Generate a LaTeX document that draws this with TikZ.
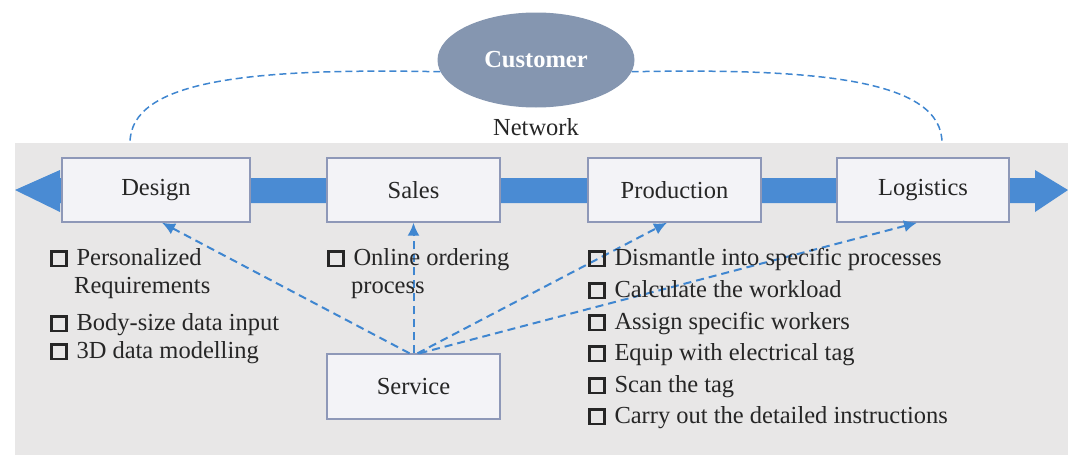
\documentclass[tikz,border=0pt]{standalone}
\usepackage{fontspec}
\setmainfont{Liberation Serif}
\usetikzlibrary{arrows.meta,shapes.geometric}

\definecolor{bggray}{HTML}{E8E7E7}
\definecolor{bandblue}{HTML}{4A8BD3}
\definecolor{linkblue}{HTML}{3F86D0}
\definecolor{boxfill}{HTML}{F3F3F7}
\definecolor{boxedge}{HTML}{8E98B8}
\definecolor{custfill}{HTML}{8596B0}

% empty square used as list bullet
\newcommand\chkbox{{\setlength\fboxrule{2.4pt}\setlength\fboxsep{0pt}\fbox{\rule{0pt}{12.5pt}\rule{12.5pt}{0pt}}}\hspace{9pt}}

\begin{document}
\begin{tikzpicture}[x=1pt,y=-1pt,
  txt/.style={font=\fontsize{24.5}{29}\selectfont, inner sep=0pt, text=black!85},
  stage/.style={txt, draw=boxedge, fill=boxfill, line width=1.4pt, minimum height=64pt},
  item/.style={txt, anchor=base west},
  netlink/.style={draw=linkblue, line width=1.5pt, dash pattern=on 7pt off 4pt},
  svclink/.style={draw=linkblue, line width=2pt, dash pattern=on 8pt off 5pt,
                  -{Latex[length=13pt,width=12pt]}}]
\useasboundingbox (0,0) rectangle (1068,458);

% shaded network area
\fill[bggray] (15,143) rectangle (1068,455);

% double-headed flow band
\fill[bandblue] (15,190) -- (60,170) -- (60,178) -- (1035,178) -- (1035,170)
  -- (1068,190) -- (1035,212) -- (1035,203) -- (60,203) -- (60,212) -- cycle;

% value chain stages
\node[stage, minimum width=188pt] (design) at (156,190) {Design};
\node[stage, minimum width=173pt] (sales) at (413.5,190) {Sales};
\node[stage, minimum width=173pt] (production) at (674.5,190) {Production};
\node[stage, minimum width=172pt] (logistics) at (923,190) {Logistics};
\node[stage, minimum width=173pt, minimum height=65pt] (service) at (413.5,386.5) {Service};

% customer and network label
\node[ellipse, fill=custfill, minimum width=197pt, minimum height=95pt, inner sep=0pt,
      text=white, font=\fontsize{24.5}{29}\selectfont\bfseries] (customer) at (536,60) {Customer};
\node[txt, anchor=base] (network) at (536,135) {Network};

% links from the customer into the network
\coordinate (dtop) at (130,143);
\coordinate (ltop) at (942,143);
\draw[netlink] (customer.187) .. controls (250,68) and (130,80) .. (dtop);
\draw[netlink] (customer.353) .. controls (820,68) and (942,80) .. (ltop);

% service feeds every stage
\draw[svclink] ([xshift=-4pt]service.north) -- ([xshift=6pt]design.south);
\draw[svclink] (service.north) -- (sales.south);
\draw[svclink] ([xshift=4pt]service.north) -- ([xshift=-7.5pt]production.south);
\draw[svclink] ([xshift=6pt]service.north) -- ([xshift=-6pt]logistics.south);

% design tasks
\node[item] (d1) at (50,265) {\chkbox Personalized};
\node[item] (d2) at (74,293) {Requirements};
\node[item] (d3) at (50,330) {\chkbox Body-size data input};
\node[item] (d4) at (50,358) {\chkbox 3D data modelling};

% sales tasks
\node[item] (s1) at (327,265) {\chkbox Online ordering};
\node[item] (s2) at (351,293) {process};

% production tasks
\node[item] (p1) at (588,265) {\chkbox Dismantle into specific processes};
\node[item] (p2) at (588,297) {\chkbox Calculate the workload};
\node[item] (p3) at (588,329) {\chkbox Assign specific workers};
\node[item] (p4) at (588,360) {\chkbox Equip with electrical tag};
\node[item] (p5) at (588,392) {\chkbox Scan the tag};
\node[item] (p6) at (588,423) {\chkbox Carry out the detailed instructions};
\end{tikzpicture}
\end{document}
